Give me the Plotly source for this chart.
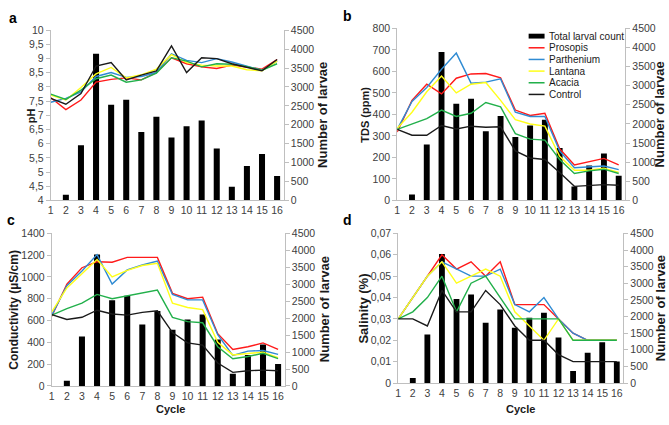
import plotly.graph_objects as go

W, H = 669, 425

# ---------------- data ----------------
cycles = list(range(1, 17))
larvae = [0, 150, 1460, 3880, 2530, 2660, 1810, 2210, 1660, 1960, 2110, 1370, 360, 910, 1225, 645]

bar_name = "Total larval count"
series_names = ["Prosopis", "Parthenium", "Lantana", "Acacia", "Control"]
series_colors = ["#ff1a1a", "#2f8bd3", "#ffff1a", "#22b04b", "#1a1a1a"]

ph_prosopis = [7.62, 7.2, 7.54, 8.17, 8.27, 8.32, 8.25, 8.51, 9.03, 8.82, 8.71, 8.65, 8.77, 8.71, 8.63, 8.97]
ph_parthenium = [7.46, 7.6, 7.83, 8.37, 8.51, 8.34, 8.37, 8.51, 9.17, 8.94, 8.86, 9.0, 8.88, 8.74, 8.59, 8.91]
ph_lantana = [7.71, 7.54, 7.98, 8.46, 8.69, 8.32, 8.43, 8.63, 9.14, 8.86, 8.77, 8.74, 8.74, 8.61, 8.57, 8.91]
ph_acacia = [7.75, 7.56, 7.89, 8.29, 8.42, 8.17, 8.25, 8.49, 9.03, 8.91, 8.71, 8.82, 8.8, 8.72, 8.59, 8.82]
ph_control = [7.6, 7.39, 7.77, 8.74, 8.86, 8.25, 8.42, 8.57, 9.45, 8.51, 9.03, 9.0, 8.82, 8.69, 8.57, 8.97]

tds_prosopis = [318, 465, 540, 495, 568, 588, 590, 570, 420, 395, 405, 240, 165, 180, 195, 165]
tds_parthenium = [330, 460, 525, 610, 685, 545, 550, 565, 410, 390, 390, 230, 152, 155, 160, 143]
tds_lantana = [335, 410, 505, 578, 500, 540, 548, 465, 375, 355, 345, 205, 140, 140, 150, 130]
tds_acacia = [330, 355, 380, 420, 390, 405, 455, 435, 310, 285, 280, 190, 125, 137, 145, 125]
tds_control = [330, 303, 303, 348, 332, 345, 340, 342, 230, 197, 190, 130, 65, 70, 73, 70]

cond_prosopis = [640, 935, 1085, 1140, 1135, 1180, 1180, 1180, 850, 800, 815, 480, 335, 360, 395, 335]
cond_parthenium = [650, 920, 1055, 1205, 935, 1065, 1110, 1145, 840, 790, 790, 470, 280, 320, 325, 290]
cond_lantana = [680, 900, 1030, 1160, 1000, 1060, 1105, 1125, 760, 720, 700, 400, 285, 300, 310, 260]
cond_acacia = [650, 710, 760, 840, 800, 825, 850, 880, 630, 590, 580, 360, 250, 270, 300, 250]
cond_control = [655, 610, 630, 695, 660, 650, 675, 690, 490, 395, 375, 210, 125, 140, 145, 140]

sal_prosopis = [0.03, 0.04, 0.05, 0.06, 0.0533, 0.0567, 0.05, 0.0567, 0.0367, 0.0367, 0.0367, 0.03, 0.0233, 0.02, 0.02, 0.02]
sal_parthenium = [0.03, 0.04, 0.05, 0.0567, 0.0533, 0.05, 0.05, 0.0533, 0.0367, 0.0333, 0.04, 0.03, 0.0233, 0.02, 0.02, 0.02]
sal_lantana = [0.03, 0.04, 0.05, 0.0567, 0.0467, 0.05, 0.0533, 0.05, 0.0333, 0.0267, 0.02, 0.03, 0.02, 0.02, 0.02, 0.02]
sal_acacia = [0.03, 0.0333, 0.04, 0.05, 0.0333, 0.0467, 0.05, 0.04, 0.03, 0.03, 0.03, 0.03, 0.02, 0.02, 0.02, 0.02]
sal_control = [0.03, 0.03, 0.0267, 0.0433, 0.0333, 0.0333, 0.0433, 0.0367, 0.0267, 0.02, 0.02, 0.0133, 0.01, 0.01, 0.01, 0.01]

larvae_ticks = [0, 500, 1000, 1500, 2000, 2500, 3000, 3500, 4000, 4500]
ph_tickvals = [4, 4.5, 5, 5.5, 6, 6.5, 7, 7.5, 8, 8.5, 9, 9.5, 10]
ph_ticktext = ["4", "4,5", "5", "5,5", "6", "6,5", "7", "7,5", "8", "8,5", "9", "9,5", "10"]
tds_ticks = [0, 100, 200, 300, 400, 500, 600, 700, 800]
cond_ticks = [0, 200, 400, 600, 800, 1000, 1200, 1400]
sal_tickvals = [0, 0.01, 0.02, 0.03, 0.04, 0.05, 0.06, 0.07]
sal_ticktext = ["0", "0,01", "0,02", "0,03", "0,04", "0,05", "0,06", "0,07"]

panel_letters = ["a", "b", "c", "d"]
left_titles = ["pH", "TDS (ppm)", "Conductivity (µS/cm)", "Salinity (%)"]
right_title = "Number of larvae"
x_title = "Cycle"

# ---------------- layout helpers ----------------
FONT = "Liberation Sans, Arial, sans-serif"
AX = "#bfbfbf"
TXT = "#404040"
TICKSIZE = 10.5

def px_x(p):
    return p / W

def px_y(p):
    return 1 - p / H

panels = [
    dict(series=[ph_prosopis, ph_parthenium, ph_lantana, ph_acacia, ph_control],
         rng=[4, 10], tv=ph_tickvals, tt=ph_ticktext,
         box=(48, 282, 25, 200), ltx=28, ltsize=11, rtx=321),
    dict(series=[tds_prosopis, tds_parthenium, tds_lantana, tds_acacia, tds_control],
         rng=[0, 800], tv=tds_ticks, tt=[str(v) for v in tds_ticks],
         box=(396, 625, 23, 200), ltx=364, ltsize=11, rtx=659),
    dict(series=[cond_prosopis, cond_parthenium, cond_lantana, cond_acacia, cond_control],
         rng=[0, 1400], tv=cond_ticks, tt=[str(v) for v in cond_ticks],
         box=(49, 283, 234, 391), ltx=11, ltsize=12, rtx=323),
    dict(series=[sal_prosopis, sal_parthenium, sal_lantana, sal_acacia, sal_control],
         rng=[0, 0.07], tv=sal_tickvals, tt=sal_ticktext,
         box=(397, 623, 234, 388), ltx=362, ltsize=13, rtx=660),
]

fig = go.Figure()
layout = dict(
    width=W, height=H,
    margin=dict(l=0, r=0, t=0, b=0),
    paper_bgcolor="white", plot_bgcolor="rgba(0,0,0,0)",
    showlegend=False,
    font=dict(family=FONT, size=10, color=TXT),
)
annotations = []
shapes = []

for k, p in enumerate(panels):
    xn = f"x{k + 1}"
    yb = f"y{2 * k + 1}"
    yl = f"y{2 * k + 2}"
    x0, x1, y0, y1 = p["box"]
    xdom = [px_x(x0), px_x(x1)]
    ydom = [px_y(y1), px_y(y0)]

    fig.add_trace(go.Bar(x=cycles, y=larvae, width=0.4, marker=dict(color="black", line=dict(width=0)),
                         name=bar_name, xaxis=xn, yaxis=yb))
    for name, col, vals in zip(series_names, series_colors, p["series"]):
        fig.add_trace(go.Scatter(x=cycles, y=vals, mode="lines", name=name,
                                 line=dict(color=col, width=1.4), xaxis=xn, yaxis=yl))

    xkey = "xaxis" if k == 0 else f"xaxis{k + 1}"
    ybkey = f"yaxis{2 * k + 1}" if k > 0 else "yaxis"
    ylkey = f"yaxis{2 * k + 2}"
    layout[xkey] = dict(domain=xdom, anchor=yb, range=[1, 16.44], tickvals=cycles,
                        ticktext=[str(c) for c in cycles], showline=True, linecolor=AX,
                        linewidth=1, ticks="", showgrid=False, zeroline=False,
                        tickfont=dict(size=TICKSIZE, color=TXT))
    layout[ybkey] = dict(domain=ydom, anchor=xn, side="right", range=[0, 4500],
                         tickvals=larvae_ticks, ticktext=[str(v) for v in larvae_ticks],
                         showline=True, linecolor=AX, ticks="outside", ticklen=4, tickcolor=AX,
                         showgrid=False, zeroline=False, tickfont=dict(size=TICKSIZE, color=TXT))
    layout[ylkey] = dict(overlaying=yb, anchor=xn, side="left", range=p["rng"],
                         tickvals=p["tv"], ticktext=p["tt"], showline=True, linecolor=AX,
                         ticks="outside", ticklen=4, tickcolor=AX, showgrid=False,
                         zeroline=False, tickfont=dict(size=TICKSIZE, color=TXT))

    yc = (y0 + y1) / 2
    annotations.append(dict(text=f"<b>{left_titles[k]}</b>", x=px_x(p["ltx"]), y=px_y(yc), xref="paper",
                            yref="paper", showarrow=False, textangle=-90,
                            font=dict(size=p["ltsize"], color="#1a1a1a"), xanchor="center", yanchor="middle"))
    annotations.append(dict(text=f"<b>{right_title}</b>", x=px_x(p["rtx"]), y=px_y(yc), xref="paper",
                            yref="paper", showarrow=False, textangle=-90,
                            font=dict(size=13, color="#1a1a1a"), xanchor="center", yanchor="middle"))

# panel letters
for letter, (lx, ly) in zip(panel_letters, [(10, 12), (346, 10), (8, 220), (346, 220)]):
    annotations.append(dict(text=f"<b>{letter}</b>", x=px_x(lx), y=px_y(ly), xref="paper", yref="paper",
                            showarrow=False, font=dict(size=14, color="black"),
                            xanchor="center", yanchor="middle"))

# x titles
for cx in (168, 520):
    annotations.append(dict(text=f"<b>{x_title}</b>", x=px_x(cx), y=px_y(415), xref="paper", yref="paper",
                            showarrow=False, font=dict(size=11, color="#1a1a1a"),
                            xanchor="center", yanchor="middle"))

# manual legend inside panel b
leg_x0, leg_x1, leg_text_x, leg_y = 528, 544, 546, 31
items = [(bar_name, "black", True)] + [(n, c, False) for n, c in zip(series_names, series_colors)]
for i, (name, col, is_bar) in enumerate(items):
    yy = leg_y + 12 * i
    if is_bar:
        shapes.append(dict(type="rect", xref="paper", yref="paper", x0=px_x(leg_x0), x1=px_x(leg_x1),
                           y0=px_y(yy + 2.5), y1=px_y(yy - 2.5), fillcolor="black", line=dict(width=0)))
    else:
        shapes.append(dict(type="line", xref="paper", yref="paper", x0=px_x(leg_x0), x1=px_x(leg_x1),
                           y0=px_y(yy), y1=px_y(yy), line=dict(color=col, width=1.5)))
    annotations.append(dict(text=name, x=px_x(leg_text_x), y=px_y(yy), xref="paper", yref="paper",
                            showarrow=False, xanchor="left", yanchor="middle",
                            font=dict(size=10, color="#1a1a1a")))

layout["annotations"] = annotations
layout["shapes"] = shapes
fig.update_layout(**layout)
fig.write_html("out.html")
